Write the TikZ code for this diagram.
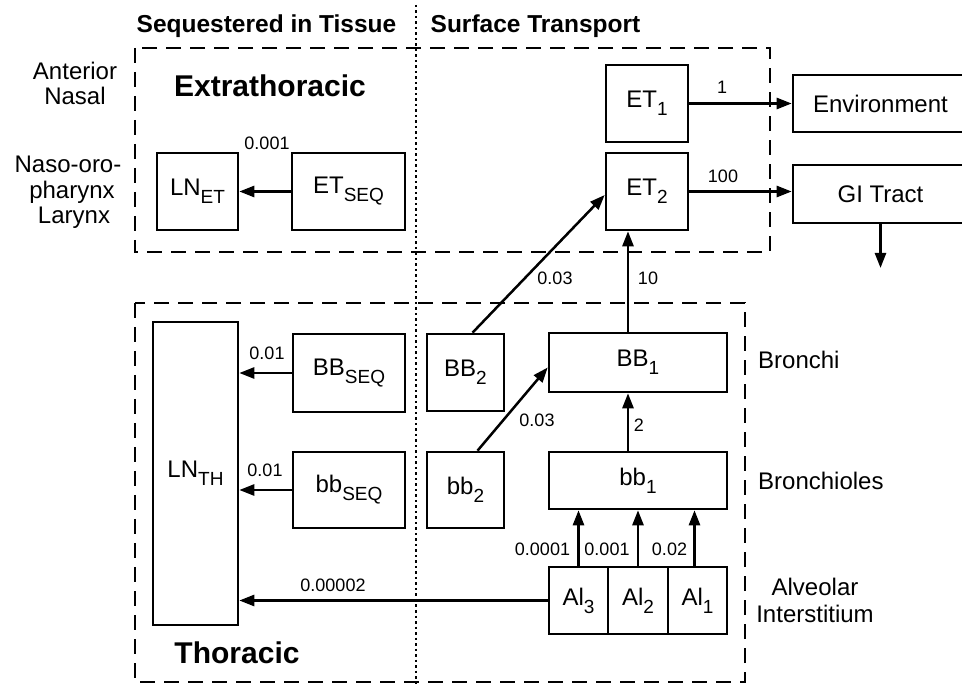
\documentclass[tikz,border=0pt]{standalone}
\usepackage{fontspec}
\setmainfont{Liberation Sans}
\usetikzlibrary{arrows.meta}
\newcommand\lowsub[1]{\raisebox{-8pt}{\fontsize{19}{20}\selectfont #1}}
\begin{document}
\begin{tikzpicture}[x=1pt,y=-1pt,
  box/.style={draw, line width=2.6pt, inner sep=0pt, font=\fontsize{24}{26}\selectfont},
  arr/.style={line width=2.5pt, -{Triangle[length=15pt,width=11pt]}},
  rate/.style={font=\fontsize{18}{20}\selectfont, inner sep=0pt},
  side/.style={font=\fontsize{24}{26}\selectfont, inner sep=0pt, anchor=base},
  head/.style={font=\bfseries\fontsize{24.5}{26}\selectfont, inner sep=0pt, anchor=base},
  region/.style={font=\bfseries\fontsize{30}{32}\selectfont, inner sep=0pt, anchor=base},
  dashedbox/.style={line width=2.6pt, dash pattern=on 15pt off 9pt},
  dottedline/.style={line width=2.6pt, dash pattern=on 2.5pt off 3pt}
]
\useasboundingbox (0,0) rectangle (962,684);
\clip (0,0) rectangle (962,684);

% region frames
\draw[dashedbox] (135,48) rectangle (770,252);
\draw[dashedbox] (135,303) rectangle (745,682);
\draw[dottedline] (416,5) -- (416,684);

% headers
\node[head] (hseq) at (266.5,33) {Sequestered in Tissue};
\node[head] (hsurf) at (535.5,33) {Surface Transport};
\node[region] (rET) at (270,97) {Extrathoracic};
\node[region] (rTH) at (237,663) {Thoracic};

% side labels
\node[side] (s1) at (75,80) {Anterior};
\node[side] (s2) at (75,105) {Nasal};
\node[side] (s3) at (68,173) {Naso-oro-};
\node[side] (s4) at (72,199) {pharynx};
\node[side] (s5) at (74,224) {Larynx};
\node[side] (s6) at (758,369) [anchor=base west] {Bronchi};
\node[side] (s7) at (758,490) [anchor=base west] {Bronchioles};
\node[side] (s8) at (815,595) {Alveolar};
\node[side] (s9) at (815,623) {Interstitium};

% boxes
\node[box, minimum width=81pt, minimum height=77pt] (LNet) at (197.5,191.5) {LN\lowsub{ET}};
\node[box, minimum width=113pt, minimum height=77pt] (ETseq) at (348.5,191.5) {ET\lowsub{SEQ}};
\node[box, minimum width=82pt, minimum height=77pt] (ET1) at (647,103.5) {ET\lowsub{1}};
\node[box, minimum width=82pt, minimum height=77pt] (ET2) at (647,191.5) {ET\lowsub{2}};
\node[box, minimum width=175pt, minimum height=57pt] (Env) at (880.5,103.5) {Environment};
\node[box, minimum width=175pt, minimum height=58pt] (GI) at (880.5,194) {GI Tract};
\node[box, minimum width=85pt, minimum height=303pt] (LNth) at (195.5,473.5) {LN\lowsub{TH}};
\node[box, minimum width=112pt, minimum height=78pt] (BBseq) at (349,373) {BB\lowsub{SEQ}};
\node[box, minimum width=112pt, minimum height=76pt] (bbseq) at (349,490) {bb\lowsub{SEQ}};
\node[box, minimum width=77pt, minimum height=77pt] (BB2) at (465.5,372.5) {BB\lowsub{2}};
\node[box, minimum width=77pt, minimum height=76pt] (bb2) at (465.5,490) {bb\lowsub{2}};
\node[box, minimum width=178pt, minimum height=59pt] (BB1) at (638,362.5) {BB\lowsub{1}};
\node[box, minimum width=178pt, minimum height=57pt] (bb1) at (638,480.5) {bb\lowsub{1}};
\node[box, minimum width=59pt, minimum height=67pt] (AI3) at (578.5,600.5) {Al\lowsub{3}};
\node[box, minimum width=60pt, minimum height=67pt] (AI2) at (638,600.5) {Al\lowsub{2}};
\node[box, minimum width=59pt, minimum height=67pt] (AI1) at (697.5,600.5) {Al\lowsub{1}};

\coordinate (gibot) at (880.5,268);

% connectors
\draw[arr] (ETseq.west) -- (LNet.east);
\draw[arr] (ET1.east) -- (ET1.east -| Env.west);
\draw[arr] (ET2.east) -- (ET2.east -| GI.west);
\draw[arr] (GI.south) -- (gibot);
\draw[arr] ([xshift=7pt]BB2.north) -- ([yshift=-3.5pt]ET2.west);
\draw[arr] ([xshift=-10pt]BB1.north) -- ([xshift=-10pt]BB1.north |- ET2.south);
\draw[arr] ([xshift=-10pt]bb1.north) -- ([xshift=-10pt]bb1.north |- BB1.south);
\draw[arr] ([xshift=12pt]bb2.north) -- ([yshift=-5pt]BB1.west);
\draw[arr] (BBseq.west) -- (BBseq.west -| LNth.east);
\draw[arr] (bbseq.west) -- (bbseq.west -| LNth.east);
\draw[arr] (AI3.west) -- (AI3.west -| LNth.east);
\draw[arr] (AI3.north) -- (AI3.north |- bb1.south);
\draw[arr] (AI2.north) -- (AI2.north |- bb1.south);
\draw[arr] ([xshift=-3pt]AI1.north) -- ([xshift=-3pt]AI1.north |- bb1.south);

% rate labels
\node[rate] (r1) at (267,143) {0.001};
\node[rate] (r2) at (722,87) {1};
\node[rate] (r3) at (723,176) {100};
\node[rate] (r4) at (555,278) {0.03};
\node[rate] (r5) at (648,278) {10};
\node[rate] (r6) at (267,353) {0.01};
\node[rate] (r7) at (265,470) {0.01};
\node[rate] (r8) at (333,585) {0.00002};
\node[rate] (r9) at (537,420) {0.03};
\node[rate] (r10) at (639,425) {2};
\node[rate] (r11) at (542.5,549) {0.0001};
\node[rate] (r12) at (607,549) {0.001};
\node[rate] (r13) at (669.5,549) {0.02};
\end{tikzpicture}
\end{document}
